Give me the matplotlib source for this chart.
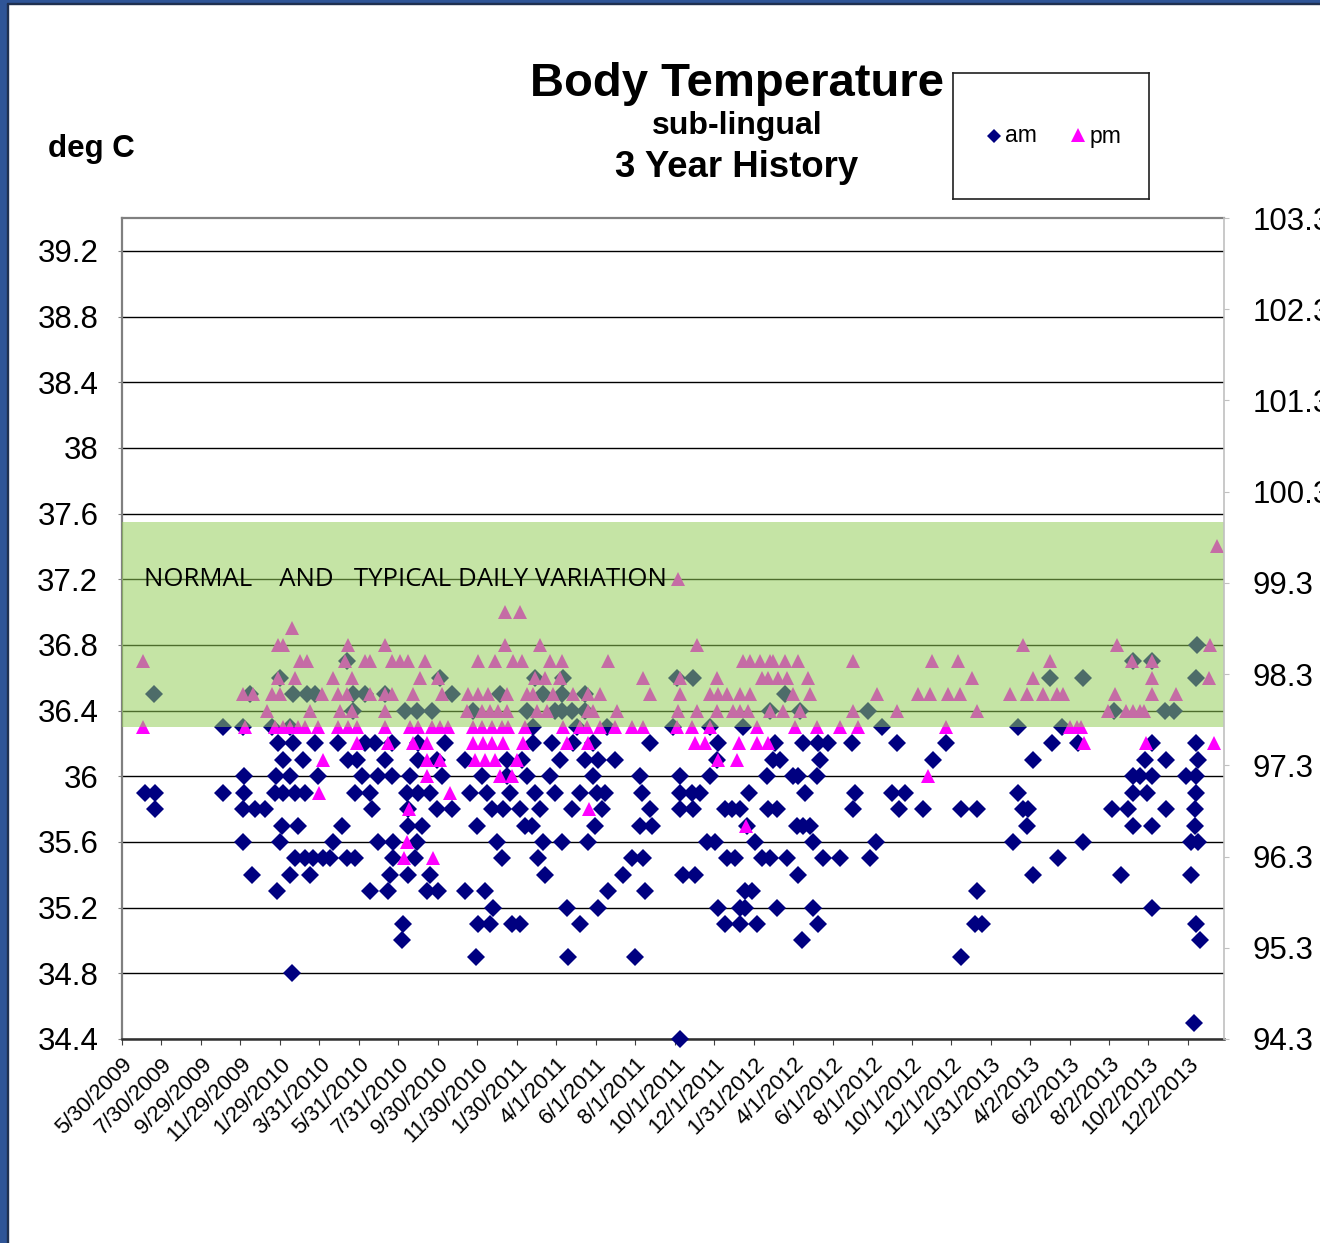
import matplotlib.pyplot as plt
from matplotlib.patches import Rectangle
from datetime import datetime

plt.rcParams['font.family'] = ['Liberation Sans', 'DejaVu Sans']

start = datetime(2009, 5, 30)

tick_labels = ['5/30/2009', '7/30/2009', '9/29/2009', '11/29/2009', '1/29/2010',
               '3/31/2010', '5/31/2010', '7/31/2010', '9/30/2010', '11/30/2010',
               '1/30/2011', '4/1/2011', '6/1/2011', '8/1/2011', '10/1/2011',
               '12/1/2011', '1/31/2012', '4/1/2012', '6/1/2012', '8/1/2012',
               '10/1/2012', '12/1/2012', '1/31/2013', '4/2/2013', '6/2/2013',
               '8/2/2013', '10/2/2013', '12/2/2013']

c_ticks = [34.4, 34.8, 35.2, 35.6, 36.0, 36.4, 36.8, 37.2, 37.6, 38.0, 38.4, 38.8, 39.2]
c_labels = ['34.4', '34.8', '35.2', '35.6', '36', '36.4', '36.8', '37.2', '37.6',
            '38', '38.4', '38.8', '39.2']
f_ticks = [94.3, 95.3, 96.3, 97.3, 98.3, 99.3, 100.3, 101.3, 102.3, 103.3]

# normal range band (deg C)
normal_low, normal_high = 36.3, 37.55

# am readings: temperature level -> days since 5/30/2009
am_levels = [36.8, 36.7, 36.6, 36.5, 36.4, 36.3, 36.2, 36.1, 36.0, 35.9, 35.8,
             35.7, 35.6, 35.5, 35.4, 35.3, 35.2, 35.1, 35.0, 34.9, 34.8, 34.5, 34.4]
am_days = [
    [1661],
    [348, 1562, 1591],
    [244, 491, 638, 681, 857, 882, 1434, 1485, 1659],
    [49, 198, 264, 286, 298, 357, 375, 406, 510, 584, 650, 680, 715, 1024],
    [357, 437, 456, 479, 542, 626, 669, 680, 695, 715, 1001, 1048, 1153, 1533, 1611, 1625],
    [156, 187, 232, 260, 635, 703, 749, 851, 908, 959, 1174, 1384, 1452],
    [241, 264, 298, 334, 375, 391, 417, 457, 499, 635, 664, 697, 728, 816, 921, 1009,
     1052, 1075, 1091, 1128, 1197, 1273, 1437, 1477, 1591, 1659],
    [249, 280, 349, 363, 406, 457, 487, 530, 595, 618, 677, 715, 735, 762, 919, 1006,
     1017, 1078, 1253, 1407, 1581, 1613, 1662],
    [188, 238, 260, 303, 371, 396, 417, 445, 494, 556, 595, 626, 661, 728, 800, 862,
     908, 997, 1037, 1044, 1074, 1562, 1573, 1591, 1644, 1659],
    [36, 51, 156, 188, 236, 249, 267, 283, 360, 383, 440, 457, 476, 538, 564, 599, 638,
     669, 708, 734, 746, 803, 862, 881, 893, 969, 1055, 1132, 1190, 1210, 1384, 1562,
     1584, 1659],
    [51, 187, 205, 221, 386, 442, 487, 510, 572, 589, 615, 646, 695, 742, 816, 862, 882,
     932, 942, 955, 998, 1012, 1129, 1200, 1238, 1296, 1321, 1392, 1400, 1530, 1554,
     1613, 1658],
    [247, 272, 340, 442, 464, 548, 623, 633, 731, 800, 819, 966, 1043, 1052, 1063, 1398,
     1562, 1591, 1658],
    [187, 244, 326, 396, 419, 456, 579, 650, 680, 720, 904, 916, 978, 1068, 1165, 1377,
     1485, 1652, 1662],
    [267, 283, 295, 311, 321, 348, 360, 419, 453, 587, 643, 788, 805, 935, 947, 989,
     1001, 1027, 1083, 1109, 1156, 1446],
    [201, 260, 290, 414, 442, 476, 654, 774, 867, 885, 1044, 1407, 1543, 1652],
    [239, 383, 411, 471, 488, 530, 561, 751, 808, 963, 973, 1321],
    [573, 688, 735, 921, 955, 963, 1012, 1068, 1591],
    [434, 550, 569, 603, 615, 708, 932, 955, 981, 1075, 1318, 1329, 1659],
    [433, 1051, 1666],
    [547, 689, 793, 1296],
    [263],
    [1656],
    [862],
]

# pm readings
pm_levels = [37.4, 37.2, 37.0, 36.9, 36.8, 36.7, 36.6, 36.5, 36.4, 36.3, 36.2, 36.1,
             36.0, 35.9, 35.8, 35.7, 35.6, 35.5]
pm_days = [
    [1692],
    [859],
    [592, 615],
    [263],
    [241, 249, 349, 406, 592, 646, 888, 1392, 1537, 1681],
    [32, 275, 286, 345, 375, 383, 417, 430, 442, 468, 550, 576, 604, 618, 661, 680, 751,
     959, 970, 986, 1001, 1006, 1024, 1044, 1129, 1251, 1292, 1434, 1560, 1591],
    [241, 267, 326, 355, 460, 488, 638, 654, 677, 805, 862, 919, 989, 998, 1014, 1027,
     1060, 1313, 1407, 1591, 1679],
    [187, 202, 232, 244, 309, 334, 348, 383, 406, 417, 450, 494, 535, 550, 565, 595, 626,
     635, 666, 697, 720, 739, 816, 862, 908, 921, 935, 955, 970, 1037, 1063, 1166, 1230,
     1248, 1276, 1295, 1372, 1398, 1423, 1445, 1454, 1534, 1591, 1628],
    [224, 290, 337, 355, 406, 533, 556, 569, 581, 595, 641, 657, 720, 728, 765, 859, 888,
     919, 944, 955, 967, 1001, 1021, 1048, 1129, 1197, 1321, 1523, 1551, 1562, 1573, 1579],
    [32, 190, 236, 249, 260, 272, 283, 303, 334, 349, 363, 406, 445, 457, 479, 491, 504,
     542, 556, 572, 587, 596, 623, 681, 708, 718, 739, 762, 788, 805, 857, 881, 908, 981,
     1040, 1074, 1109, 1137, 1273, 1465, 1475, 1482],
    [363, 411, 450, 471, 542, 558, 572, 589, 620, 688, 720, 885, 901, 953, 981, 998, 1486,
     1582, 1687],
    [311, 471, 491, 545, 561, 576, 610, 921, 950],
    [471, 584, 603, 1245],
    [304, 507],
    [443, 722],
    [964],
    [440],
    [436, 480],
]


def expand(levels, days):
    xs, ys = [], []
    for t, ds in zip(levels, days):
        xs += ds
        ys += [t] * len(ds)
    return xs, ys


am_x, am_y = expand(am_levels, am_days)
pm_x, pm_y = expand(pm_levels, pm_days)
tick_x = [(datetime.strptime(l, '%m/%d/%Y') - start).days for l in tick_labels]

W, H = 1320, 1243
fig = plt.figure(figsize=(W / 100, H / 100), dpi=100)
ax = fig.add_axes([122 / W, 1 - 1039 / H, 1102 / W, 821 / H])

ax.plot(am_x, am_y, 'D', ms=9.4, color='#000080', mew=0, zorder=3, clip_on=False)
ax.plot(pm_x, pm_y, '^', ms=9.8, color='#FF00FF', mew=0, zorder=4, clip_on=False)

ax.axhspan(normal_low, normal_high, facecolor='#92CD55', alpha=0.53, lw=0, zorder=5)
ax.text(34, 37.2, 'NORMAL    AND   TYPICAL DAILY VARIATION', family='Open Sans',
        fontsize=18.5, va='center', ha='left', zorder=6)

ax.set_xlim(0, 1702.7)
ax.set_ylim(34.4, 39.4)
ax.set_yticks(c_ticks)
ax.set_yticklabels(c_labels, fontsize=22.5)
ax.set_xticks(tick_x)
ax.set_xticklabels(tick_labels, fontsize=16, rotation=45, ha='right',
                   rotation_mode='anchor')
ax.tick_params(axis='y', length=3, pad=14, color='#808080')
ax.tick_params(axis='x', length=4.5, pad=6, color='#404040')
ax.grid(axis='y', color='black', lw=1)
ax.set_axisbelow(True)
for s in ['left', 'top']:
    ax.spines[s].set_color('#808080')
    ax.spines[s].set_linewidth(1.6)
ax.spines['bottom'].set_color('#303030')
ax.spines['bottom'].set_linewidth(1.8)
ax.spines['right'].set_visible(False)

ax2 = ax.twinx()
ax2.set_ylim(94.3, 103.3)
ax2.set_yticks(f_ticks)
ax2.set_yticklabels([f'{v:.1f}' for v in f_ticks], fontsize=22.5)
ax2.tick_params(axis='y', length=3.5, pad=17, color='#C0C0C0')
for s in ['left', 'top', 'bottom']:
    ax2.spines[s].set_visible(False)
ax2.spines['right'].set_color('#C0C0C0')
ax2.spines['right'].set_linewidth(1.2)

# titles
fig.text(737 / W, 1 - 96 / H, 'Body Temperature', fontsize=34, weight='bold',
         ha='center', va='baseline')
fig.text(737 / W, 1 - 134 / H, 'sub-lingual', fontsize=23, weight='bold',
         ha='center', va='baseline')
fig.text(737 / W, 1 - 177 / H, '3 Year History', fontsize=26.3, weight='bold',
         ha='center', va='baseline')
fig.text(48 / W, 1 - 157 / H, 'deg C', fontsize=22.5, weight='bold',
         ha='left', va='baseline')

# legend box
lg = fig.add_axes([953 / W, 1 - 199 / H, 196 / W, 126 / H])
lg.set_xlim(0, 196)
lg.set_ylim(126, 0)
lg.set_xticks([])
lg.set_yticks([])
for s in lg.spines.values():
    s.set_color('#202020')
    s.set_linewidth(1.2)
lg.plot([41], [63], 'D', ms=7.4, color='#000080', mew=0)
lg.text(52, 63, 'am', fontsize=16.5, va='center', ha='left')
lg.plot([125], [62], '^', ms=10.5, color='#FF00FF', mew=0)
lg.text(137, 63, 'pm', fontsize=16.5, va='center', ha='left')

# slide frame
fig.patches.append(Rectangle((0, 0), 7 / W, 1, transform=fig.transFigure,
                             color='#2F5597', zorder=0))
fig.patches.append(Rectangle((7 / W, 0), 1.2 / W, 1 - 3 / H, transform=fig.transFigure,
                             color='#1F3050', zorder=0))
fig.patches.append(Rectangle((0, 1 - 3 / H), 1, 3 / H, transform=fig.transFigure,
                             color='#2F5597', zorder=0))
fig.patches.append(Rectangle((7 / W, 1 - 4.2 / H), 1, 1.2 / H, transform=fig.transFigure,
                             color='#1F3050', zorder=0))

fig.savefig('out.png', dpi=100)
